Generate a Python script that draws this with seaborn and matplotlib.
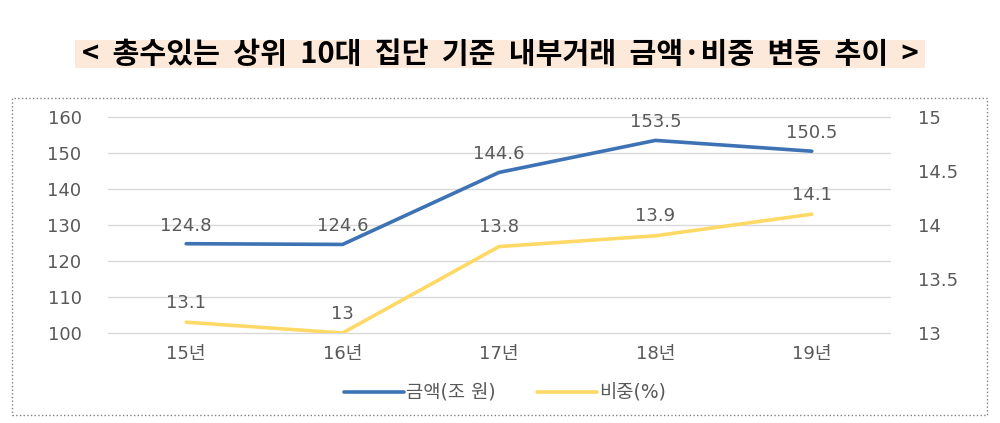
import matplotlib
matplotlib.use('Agg')
import matplotlib.pyplot as plt
from matplotlib.patches import Rectangle
import seaborn as sns
import pandas as pd

years = ['15년', '16년', '17년', '18년', '19년']
amount = [124.8, 124.6, 144.6, 153.5, 150.5]   # 금액(조 원)
share = [13.1, 13.0, 13.8, 13.9, 14.1]          # 비중(%)
amount_labels = ['124.8', '124.6', '144.6', '153.5', '150.5']
share_labels = ['13.1', '13', '13.8', '13.9', '14.1']
left_ticks = [100, 110, 120, 130, 140, 150, 160]
right_ticks = [13, 13.5, 14, 14.5, 15]
right_tick_labels = ['13', '13.5', '14', '14.5', '15']

sns.set_style('white')
plt.rcParams['font.family'] = ['DejaVu Sans', 'Noto Sans CJK KR']

BLUE = '#3d72b4'
YELLOW = '#ffd966'
GRAY = '#595959'

df = pd.DataFrame({'year': years, 'amount': amount, 'share': share})
df['x'] = range(len(years))

fig = plt.figure(figsize=(10, 4.23), dpi=100)
ax = fig.add_axes([0.108, 0.2128, 0.782, 0.5106])
ax2 = ax.twinx()

sns.lineplot(data=df, x='x', y='amount', ax=ax, color=BLUE, linewidth=2.6,
             label='금액(조 원)', legend=False)
sns.lineplot(data=df, x='x', y='share', ax=ax2, color=YELLOW, linewidth=2.6,
             label='비중(%)', legend=False)

ax.set_xlim(-0.5, 4.5)
ax.set_ylim(100, 160)
ax2.set_ylim(13, 15)
ax.set_yticks(left_ticks)
ax2.set_yticks(right_ticks)
ax2.set_yticklabels(right_tick_labels)
ax.set_xticks(df['x'])
ax.set_xticklabels(years)
ax.set_xlabel('')
ax.set_ylabel('')
ax2.set_ylabel('')
ax.grid(axis='y', color='#d9d9d9', linewidth=1)
for gl in ax.get_ygridlines():
    gl.set_clip_on(False)
ax2.grid(False)
for a in (ax, ax2):
    for s in a.spines.values():
        s.set_visible(False)
    a.tick_params(length=0, colors=GRAY, labelsize=13)
ax.tick_params(axis='y', pad=19)
ax2.tick_params(axis='y', pad=20)
ax.tick_params(axis='x', pad=9)

for xi, v, t in zip(df['x'], amount, amount_labels):
    ax.annotate(t, (xi, v), xytext=(0, 13), textcoords='offset points',
                ha='center', va='center', fontsize=13, color=GRAY)
for xi, v, t in zip(df['x'], share, share_labels):
    ax2.annotate(t, (xi, v), xytext=(0, 14), textcoords='offset points',
                 ha='center', va='center', fontsize=13, color=GRAY)

h1, l1 = ax.get_legend_handles_labels()
h2, l2 = ax2.get_legend_handles_labels()
fig.legend(h1 + h2, l1 + l2, loc='center', bbox_to_anchor=(0.505, 0.07),
           ncol=2, frameon=False, fontsize=13.5, labelcolor=GRAY,
           handlelength=3.2, columnspacing=2.2, handletextpad=0.1)

# title band
fig.patches.append(Rectangle((0.075, 1 - 68 / 423), 0.85, 28 / 423,
                             transform=fig.transFigure, facecolor='#fde9d9',
                             edgecolor='none', zorder=0))
title = '< 총수있는 상위 10대 집단 기준 내부거래 금액·비중 변동 추이 >'
fig.text(0.5, 1 - 54 / 423, title.replace(' ', '  '),
         ha='center', va='center', fontsize=21, fontweight='bold', color='black',
         family=['Noto Sans CJK KR', 'DejaVu Sans'])

# dotted frame
fig.patches.append(Rectangle((0.012, 1 - 415 / 423), 0.975, 317 / 423,
                             transform=fig.transFigure, facecolor='none',
                             edgecolor='#808080', linestyle=':', linewidth=1))

fig.savefig('out.png', dpi=100)
